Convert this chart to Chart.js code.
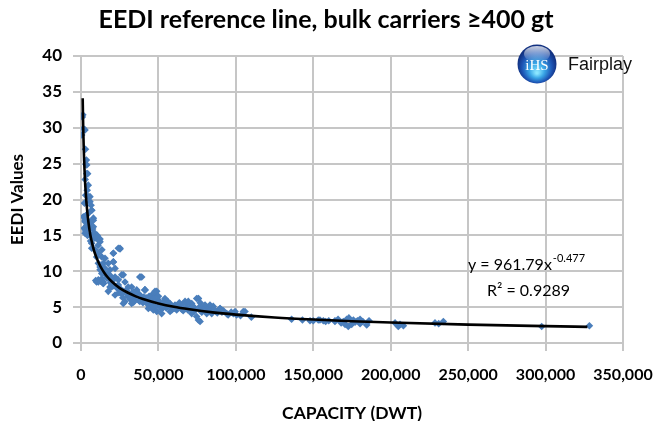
<!DOCTYPE html>
<html><head><meta charset="utf-8">
<script src="https://cdn.jsdelivr.net/npm/chart.js@4.4.1/dist/chart.umd.min.js"></script>
<style>html,body{margin:0;padding:0;background:#fff;overflow:hidden}</style>
</head><body>
<canvas id="c" width="668" height="421" style="width:668px;height:421px;display:block"></canvas>
<script>
const chartTitle = 'EEDI reference line, bulk carriers \u2265400 gt';
const xAxisTitle = 'CAPACITY (DWT)';
const yAxisTitle = 'EEDI Values';
const xTickLabels = ['0','50,000','100,000','150,000','200,000','250,000','300,000','350,000'];
const yTickLabels = ['0','5','10','15','20','25','30','35','40'];
const trendCoef = '961.79';
const trendExp = '-0.477';
const rSquared = '0.9289';

const capacityDwt = [
 850,1500,450,2600,1200,3700,4300,4700,5800,6500,6900,1500,2600,8000,3700,5800,
 3200,3700,4700,5800,6900,2600,3700,8000,2600,5800,9000,12300,6900,10100,20900,25200,
 12300,10100,14400,18700,17600,20900,38100,23000,29500,27300,32700,36000,41300,48900,
 44600,48900,53200,57500,61800,68300,74700,72500,74700,76900,81200,85400,89800,94100,100500,105900,
 2000,3000,4200,5000,3300,4500,2200,3000,4000,2700,3500,2900,6200,7500,8500,10500,11500,
 5800,8000,9000,11200,12300,6900,9000,11200,24100,20900,13400,11200,14400,20900,12300,15500,
 17600,11200,14400,18700,22000,26300,28400,38100,19800,24100,17600,22000,27300,32700,36000,41300,
 28400,30500,34900,39200,45700,47800,44600,49900,54200,43500,46700,52100,57500,60700,58600,67200,
 71500,75800,76900,71500,75800,82200,84400,52100,
 76900,83300,89800,98400,104800,147900,153200,156500,164000,
 150000,154300,164000,169400,171600,172600,174800,175900,180200,180200,184500,202800,204900,208200,228600,234000,297500,328300,
 16000,19000,21000,23500,25500,26500,29000,31000,33500,35000,37500,40000,42000,43000,46000,48000,
 50500,52000,55000,56000,59000,62500,64000,66000,70000,73000,78000,80000,87000,92000,95000,103000,110000,
 9500,12800,13500,
 166000,168000,170500,173000,177000,178500,182000,186000,160000,158000,206000,231000,143000,136000,
 13000,15000,16500,18000,20000,22500,24500,27000,30000,32000,34000,38000,40500,45000,51000,54000,60000,65000,69000,
 9000,11000,13500,17600,13400,11200,19800,24100,27300,25200,30500,32700,37000,41300,39200,43500,
 47800,49900,46700,52100,56400,60700,66100,69300,75800,73600,80100,84400,90900,99500,22000,15500,
 25200,20900,14400,18700,
 31500,34000,36500,38500,42500,44000,47000,50000,53000,55500,58000,61000,63500,67500,72000,77000,
 79000,83000,86000,88000,91000,97000
];
const eediValues = [
 31.5,29.9,29.0,29.7,31.8,24.8,23.6,22.0,20.4,19.2,18.5,17.6,16.9,17.4,16.2,16.7,
 24.9,23.6,20.4,19.7,18.5,17.1,16.4,17.1,15.3,15.1,14.6,14.5,13.2,12.0,12.5,13.1,
 10.6,8.5,8.5,10.2,9.2,8.8,9.2,7.8,6.9,5.5,5.5,7.4,7.4,7.2,
 5.1,4.4,5.1,4.4,4.6,5.5,6.2,5.1,3.7,3.0,4.1,5.1,4.8,4.1,3.9,4.4,
 16.0,15.6,15.0,16.2,17.8,18.0,19.5,20.6,21.3,22.8,25.5,27.0,14.2,15.9,15.4,15.0,14.3,
 16.9,16.2,14.8,14.6,14.1,13.9,13.0,12.5,13.2,12.5,12.0,11.1,11.1,11.3,10.2,10.4,
 9.7,8.5,8.3,9.0,9.2,9.5,8.5,9.2,7.8,8.1,7.2,6.7,7.2,7.8,7.2,7.4,
 5.8,6.5,6.5,6.2,6.7,7.2,5.8,6.0,6.2,4.8,4.6,5.1,5.5,5.3,4.6,5.8,
 5.5,6.2,5.1,4.1,3.2,4.8,4.1,4.1,
 4.6,5.3,4.8,4.1,4.4,3.1,3.2,3.1,3.0,
 3.1,3.2,3.1,3.0,3.3,2.3,2.6,3.2,3.3,2.7,2.5,2.8,2.3,2.4,2.8,3.0,2.3,2.4,
 9.5,8.4,8.0,7.6,7.4,6.8,7.3,7.0,6.6,6.0,5.9,5.6,6.3,5.4,5.3,5.0,
 5.5,4.7,4.9,5.8,5.0,4.9,5.2,4.5,4.9,4.4,4.3,4.9,4.4,4.5,3.9,3.8,3.6,
 8.7,8.6,9.0,
 3.3,2.8,2.6,3.5,2.9,3.1,3.0,3.1,3.1,3.0,2.6,2.7,3.2,3.3,
 10.8,9.9,9.1,8.9,8.2,7.9,7.0,6.3,6.9,6.1,5.7,5.8,6.4,5.6,5.2,5.3,4.8,4.7,4.6,
 14.8,13.6,13.0,11.1,9.7,8.8,9.2,8.8,9.5,7.6,7.8,6.9,6.7,7.4,9.2,6.0,
 6.9,5.8,5.1,4.8,5.5,5.1,5.5,5.8,6.2,4.8,5.3,4.4,4.6,4.4,10.4,11.8,
 13.2,11.3,8.3,7.8,
 6.2,7.1,6.9,6.6,5.9,6.5,6.2,6.5,5.7,5.1,5.2,4.8,5.6,4.8,5.0,5.6,
 4.6,4.5,4.7,4.2,4.3,4.3
];
const trendCapacity = [1100,1300,1500,1750,2000,2500,3000,4000,5000,6000,7000,8500,10000,12500,15000,17500,20000,25000,30000,35000,40000,50000,60000,70000,85000,100000,125000,150000,175000,200000,250000,300000,327000];
const trendEedi = [34.1,31.4,29.4,27.3,25.6,23.0,21.1,18.4,16.5,15.1,14.1,12.8,11.9,10.7,9.80,9.09,8.54,7.65,7.04,6.54,6.14,5.52,5.05,4.70,4.27,3.96,3.56,3.27,3.04,2.85,2.56,2.35,2.25];

const scatterPoints = capacityDwt.map((x, i) => ({x: x, y: eediValues[i]}));
const trendPoints = trendCapacity.map((x, i) => ({x: x, y: trendEedi[i]}));

const FONT = 'Lato';
const gridColor = '#c6c6c6';

const titleShift = {
  id: 'titleShift',
  afterLayout(chart) {
    if (chart.titleBlock) { chart.titleBlock.left = 0; chart.titleBlock.right = 652; }
  }
};

const overlay = {
  id: 'overlay',
  afterDraw(chart) {
    const ctx = chart.ctx;
    ctx.save();
    ctx.fillStyle = '#000';
    ctx.textBaseline = 'alphabetic';
    ctx.textAlign = 'left';
    ctx.font = '16px ' + FONT;
    const main = 'y = ' + trendCoef + 'x';
    ctx.fillText(main, 468, 270);
    const w = ctx.measureText(main).width;
    ctx.font = '11px ' + FONT;
    ctx.fillText(trendExp, 468 + w + 1, 262);
    ctx.font = '16px ' + FONT;
    ctx.fillText('R\u00B2 = ' + rSquared, 487, 296);

    const cx = 537, cy = 64, r = 19.5;
    const g = ctx.createRadialGradient(cx, cy + 9, 1, cx, cy + 2, r);
    g.addColorStop(0, '#8ae6ff');
    g.addColorStop(0.35, '#3aa6e6');
    g.addColorStop(0.75, '#1d55b5');
    g.addColorStop(1, '#123181');
    ctx.beginPath();
    ctx.arc(cx, cy, r, 0, Math.PI * 2);
    ctx.fillStyle = g;
    ctx.fill();
    const h = ctx.createLinearGradient(0, cy - r, 0, cy - 2);
    h.addColorStop(0, 'rgba(255,255,255,0.85)');
    h.addColorStop(1, 'rgba(255,255,255,0)');
    ctx.beginPath();
    ctx.ellipse(cx, cy - 10, 13, 8, 0, 0, Math.PI * 2);
    ctx.fillStyle = h;
    ctx.fill();
    ctx.fillStyle = '#fff';
    ctx.textAlign = 'center';
    ctx.font = '15px "Liberation Serif"';
    ctx.fillText('iHS', cx, cy + 6);
    ctx.fillStyle = '#111';
    ctx.textAlign = 'left';
    ctx.font = '18px "Liberation Sans"';
    ctx.fillText('Fairplay', 568, 70);
    ctx.restore();
  }
};

new Chart(document.getElementById('c'), {
  type: 'scatter',
  data: {
    datasets: [
      {
        label: 'EEDI',
        data: scatterPoints,
        pointStyle: 'rectRot',
        pointRadius: 3.8,
        backgroundColor: '#4a7ebb',
        borderColor: '#4a7ebb',
        borderWidth: 0,
        order: 2
      },
      {
        label: 'Power trend',
        data: trendPoints,
        showLine: true,
        borderColor: '#000',
        borderWidth: 2.6,
        pointRadius: 0,
        cubicInterpolationMode: 'monotone',
        order: 1
      }
    ]
  },
  options: {
    responsive: false,
    animation: false,
    layout: { padding: { left: 0, right: 45, top: 0, bottom: 0 } },
    plugins: {
      legend: { display: false },
      tooltip: { enabled: false },
      title: {
        display: true,
        text: chartTitle,
        color: '#000',
        font: { family: FONT, weight: 'bold', size: 25 },
        padding: { top: 5, bottom: 21 }
      }
    },
    scales: {
      x: {
        type: 'linear',
        min: 0, max: 350000,
        ticks: {
          stepSize: 50000,
          autoSkip: false,
          maxRotation: 0,
          color: '#000',
          padding: 14,
          font: { family: FONT, weight: 'bold', size: 16 },
          callback: (v, i) => xTickLabels[i]
        },
        grid: { color: gridColor, lineWidth: 2, tickLength: 8 },
        border: { color: gridColor, width: 2 },
        title: {
          display: true, text: xAxisTitle, color: '#000',
          font: { family: FONT, weight: 'bold', size: 17.5 },
          padding: { top: 0, bottom: -3 }
        },
        afterFit: s => { s.height = 78; }
      },
      y: {
        type: 'linear',
        min: 0, max: 40,
        ticks: {
          stepSize: 5,
          color: '#000',
          padding: 11,
          font: { family: FONT, weight: 'bold', size: 17 },
          callback: (v, i) => yTickLabels[i]
        },
        grid: { color: gridColor, lineWidth: 2, tickLength: 8 },
        border: { color: gridColor, width: 2 },
        title: {
          display: true, text: yAxisTitle, color: '#000',
          font: { family: FONT, weight: 'bold', size: 17 },
          padding: { top: 7, bottom: 0 }
        },
        afterFit: s => { s.width = 81; }
      }
    }
  },
  plugins: [titleShift, overlay]
});
</script>
</body></html>
